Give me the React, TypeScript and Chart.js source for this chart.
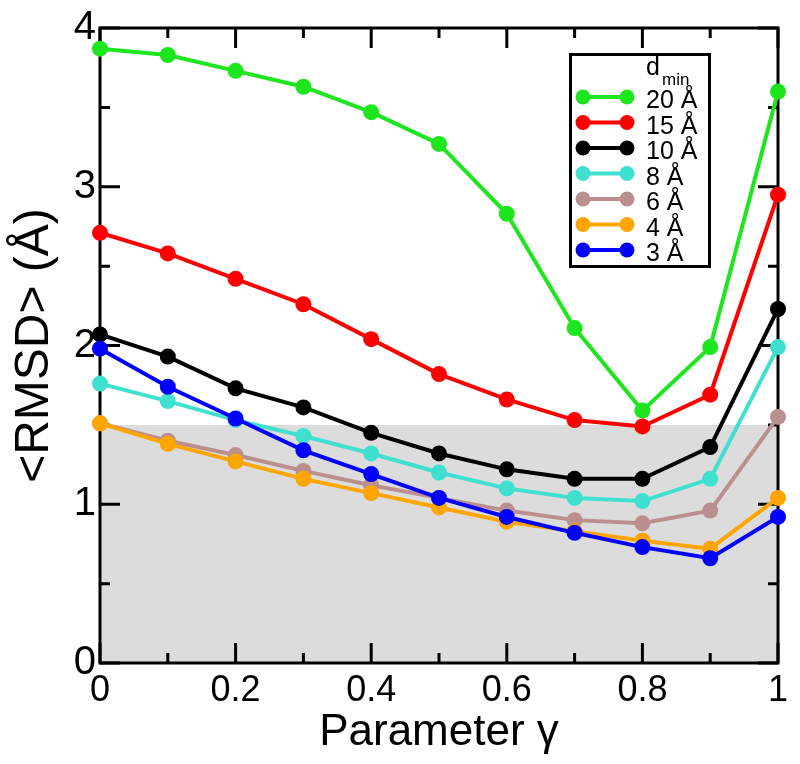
import { useEffect, useRef } from 'react';
import { Chart, registerables } from 'chart.js';

Chart.register(...registerables);

const gamma = [0, 0.1, 0.2, 0.3, 0.4, 0.5, 0.6, 0.7, 0.8, 0.9, 1.0];
const rmsd20 = [3.87, 3.83, 3.73, 3.63, 3.47, 3.27, 2.83, 2.11, 1.59, 1.99, 3.6];
const rmsd15 = [2.71, 2.58, 2.42, 2.26, 2.04, 1.82, 1.66, 1.53, 1.49, 1.69, 2.95];
const rmsd10 = [2.07, 1.93, 1.73, 1.61, 1.45, 1.32, 1.22, 1.16, 1.16, 1.36, 2.23];
const rmsd8 = [1.76, 1.65, 1.53, 1.43, 1.32, 1.2, 1.1, 1.04, 1.02, 1.16, 1.99];
const rmsd6 = [1.51, 1.4, 1.31, 1.21, 1.12, 1.04, 0.96, 0.9, 0.88, 0.96, 1.55];
const rmsd4 = [1.51, 1.38, 1.27, 1.16, 1.07, 0.98, 0.89, 0.83, 0.77, 0.72, 1.04];
const rmsd3 = [1.98, 1.74, 1.54, 1.34, 1.19, 1.04, 0.92, 0.82, 0.73, 0.66, 0.92];

const seriesLabels = ['20 Å', '15 Å', '10 Å', '8 Å', '6 Å', '4 Å', '3 Å'];
const seriesColors = ['#1ee61e', '#ff0000', '#000000', '#40e0d0', '#bc8f8f', '#ffa500', '#0000ff'];
const seriesValues = [rmsd20, rmsd15, rmsd10, rmsd8, rmsd6, rmsd4, rmsd3];

const thresholdRMSD = 1.5;
const xRange = [0, 1];
const yRange = [0, 4];
const xMinorStep = 0.1;
const yMinorStep = 0.5;
const legendHeader = 'd';
const legendHeaderSub = 'min';
const xTitle = 'Parameter γ';
const yTitle = '<RMSD> (Å)';

const FONT = "'Liberation Sans', Arial, Helvetica, sans-serif";

const framePlugin = {
  id: 'frameTicks',
  afterDatasetDraw(chart: any, args: any) {
    const ds = chart.data.datasets[args.index];
    if (!ds || !ds.isBand) return;
    const { ctx, chartArea } = chart;
    const xs = chart.scales.x;
    const ys = chart.scales.y;
    const { left, right, top, bottom } = chartArea;
    ctx.save();
    ctx.strokeStyle = '#000';
    ctx.lineWidth = 3;
    ctx.lineCap = 'butt';
    const nx = Math.round((xRange[1] - xRange[0]) / xMinorStep);
    for (let i = 0; i <= nx; i++) {
      const v = xRange[0] + i * xMinorStep;
      const px = xs.getPixelForValue(v);
      const len = i % 2 === 0 ? 20 : 10;
      ctx.beginPath();
      ctx.moveTo(px, bottom);
      ctx.lineTo(px, bottom - len);
      ctx.moveTo(px, top);
      ctx.lineTo(px, top + len);
      ctx.stroke();
    }
    const ny = Math.round((yRange[1] - yRange[0]) / yMinorStep);
    for (let i = 0; i <= ny; i++) {
      const v = yRange[0] + i * yMinorStep;
      const py = ys.getPixelForValue(v);
      const len = i % 2 === 0 ? 20 : 10;
      ctx.beginPath();
      ctx.moveTo(left, py);
      ctx.lineTo(left + len, py);
      ctx.moveTo(right, py);
      ctx.lineTo(right - len, py);
      ctx.stroke();
    }
    ctx.strokeRect(left, top, right - left, bottom - top);
    ctx.restore();
  },
};

const legendPlugin = {
  id: 'customLegend',
  afterDraw(chart: any) {
    const { ctx } = chart;
    const bx = 569, by = 53, bw = 142, bh = 215;
    ctx.save();
    ctx.fillStyle = '#fff';
    ctx.fillRect(bx, by, bw, bh);
    ctx.strokeStyle = '#000';
    ctx.lineWidth = 3;
    ctx.strokeRect(bx + 1.5, by + 1.5, bw - 3, bh - 3);
    ctx.fillStyle = '#000';
    ctx.textBaseline = 'alphabetic';
    ctx.textAlign = 'left';
    ctx.font = `25px ${FONT}`;
    ctx.fillText(legendHeader, 646, 75);
    ctx.font = `17px ${FONT}`;
    ctx.fillText(legendHeaderSub, 662, 85);
    seriesLabels.forEach((lab, i) => {
      const cy = 97 + i * 25.5;
      ctx.strokeStyle = seriesColors[i];
      ctx.lineWidth = 4;
      ctx.beginPath();
      ctx.moveTo(583, cy);
      ctx.lineTo(627, cy);
      ctx.stroke();
      ctx.fillStyle = seriesColors[i];
      [583, 627].forEach((cx) => {
        ctx.beginPath();
        ctx.arc(cx, cy, 7.5, 0, Math.PI * 2);
        ctx.fill();
      });
      ctx.fillStyle = '#000';
      ctx.font = `25px ${FONT}`;
      ctx.fillText(lab, 646, cy + 11);
    });
    ctx.restore();
  },
};

export default function App() {
  const ref = useRef<HTMLCanvasElement | null>(null);
  useEffect(() => {
    document.body.style.margin = '0';
    if (!ref.current) return;
    const datasets: any[] = [
      {
        label: 'band',
        isBand: true,
        data: xRange.map((x) => ({ x, y: thresholdRMSD })),
        showLine: true,
        fill: 'origin',
        backgroundColor: '#dcdcdc',
        borderColor: 'rgba(0,0,0,0)',
        borderWidth: 0,
        pointRadius: 0,
        order: 100,
      },
      ...seriesValues.map((vals, i) => ({
        label: seriesLabels[i],
        data: gamma.map((g, j) => ({ x: g, y: vals[j] })),
        borderColor: seriesColors[i],
        backgroundColor: seriesColors[i],
        pointBackgroundColor: seriesColors[i],
        pointBorderWidth: 0,
        pointRadius: 8,
        borderWidth: 4,
        showLine: true,
        fill: false,
        clip: false,
        order: 7 - i,
      })),
    ];
    const chart = new Chart(ref.current, {
      type: 'scatter',
      data: { datasets },
      options: {
        animation: false,
        responsive: false,
        maintainAspectRatio: false,
        layout: { padding: { left: 0, right: 22, top: 24, bottom: 0 } },
        plugins: { legend: { display: false }, tooltip: { enabled: false } },
        scales: {
          x: {
            type: 'linear',
            min: xRange[0],
            max: xRange[1],
            grid: { display: false, drawTicks: false },
            border: { display: false },
            ticks: {
              stepSize: 0.2,
              font: { size: 36, family: FONT },
              color: '#000',
              padding: 6,
              maxRotation: 0,
              autoSkip: false,
              callback: (v: any) => String(Math.round(Number(v) * 10) / 10),
            },
            title: {
              display: true,
              text: xTitle,
              font: { size: 44, family: FONT },
              color: '#000',
              padding: { top: 0, bottom: 5 },
            },
            afterFit: (s: any) => {
              s.height = 101;
            },
          },
          y: {
            type: 'linear',
            min: yRange[0],
            max: yRange[1],
            grid: { display: false, drawTicks: false },
            border: { display: false },
            ticks: {
              stepSize: 1,
              font: { size: 40, family: FONT },
              color: '#000',
              padding: 4,
            },
            title: {
              display: true,
              text: yTitle,
              font: { size: 48, family: FONT },
              color: '#000',
              padding: { top: 6, bottom: 0 },
            },
            afterFit: (s: any) => {
              s.width = 100;
            },
          },
        },
      },
      plugins: [framePlugin, legendPlugin],
    } as any);
    return () => chart.destroy();
  }, []);
  return (
    <div style={{ width: 800, height: 764 }}>
      <canvas ref={ref} width={800} height={764} style={{ display: 'block' }} />
    </div>
  );
}
